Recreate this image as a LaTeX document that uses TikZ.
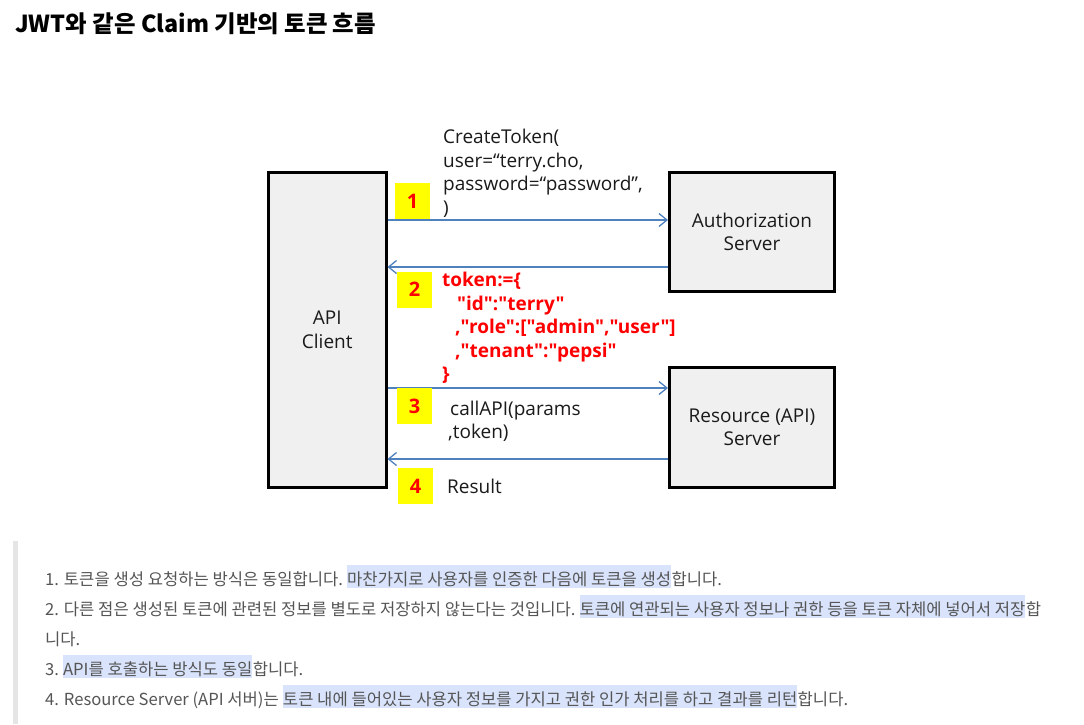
\documentclass[tikz,border=0pt]{standalone}
\usepackage{fontspec}
\usetikzlibrary{arrows.meta, positioning}
\newfontfamily\krfont{Noto Sans CJK KR}
\newfontfamily\diafont{Open Sans}
\definecolor{ink}{RGB}{26,26,26}
\definecolor{boxfill}{RGB}{240,240,240}
\definecolor{flowblue}{RGB}{79,129,189}
\definecolor{badge}{RGB}{255,255,0}
\definecolor{tokred}{RGB}{255,0,0}
\definecolor{bodytext}{RGB}{85,85,85}
\definecolor{hlblue}{RGB}{217,228,252}
\definecolor{quotebar}{RGB}{229,229,229}

\tikzset{
  server/.style={draw=black, line width=3pt, fill=boxfill, align=center, text=ink,
    inner sep=0pt, font=\diafont\fontsize{19}{23.5}\selectfont},
  flow/.style={draw=flowblue, line width=1.3pt, -{Straight Barb[length=8pt,width=13pt]}},
  numbadge/.style={fill=badge, minimum width=35pt, minimum height=36pt, inner sep=0pt,
    text=tokred, font=\diafont\bfseries\fontsize{20}{24}\selectfont},
  msg/.style={anchor=base west, inner sep=0pt, text=ink, font=\diafont\fontsize{19}{23.5}\selectfont},
  tokline/.style={msg, text=tokred, font=\diafont\bfseries\fontsize{19}{23.5}\selectfont},
  note/.style={anchor=base west, inner sep=0pt, text=bodytext, font=\krfont\fontsize{16.6}{20}\selectfont},
  notehl/.style={note, fill=hlblue, text height=20pt, text depth=3pt}
}

\begin{document}
\begin{tikzpicture}[x=1pt, y=-1pt]
  \useasboundingbox[fill=white] (0,0) rectangle (1084,724);

  % titre
  \node[anchor=base west, inner sep=0pt, text=black, font=\krfont\bfseries\fontsize{23.4}{28}\selectfont]
    (title) at (15,32) {JWT와 같은 Claim 기반의 토큰 흐름};

  % boites
  \node[server, minimum width=117.5pt, minimum height=315pt] (client) at (327.25,330) {API\\Client};
  \node[server, minimum width=165pt, minimum height=119pt] (auth) at (752,232) {Authorization\\Server};
  \node[server, minimum width=165pt, minimum height=120.5pt] (res) at (752,427.25) {Resource (API)\\Server};

  % fleches
  \coordinate (r1) at (0,220);
  \coordinate (r2) at (0,267);
  \coordinate (r3) at (0,388);
  \coordinate (r4) at (0,459);
  \draw[flow] (client.east |- r1) -- (auth.west |- r1);
  \draw[flow] (auth.west |- r2) -- (client.east |- r2);
  \draw[flow] (client.east |- r3) -- (res.west |- r3);
  \draw[flow] (res.west |- r4) -- (client.east |- r4);

  % numeros
  \node[numbadge] (b1) at (412.5,201) {1};
  \node[numbadge] (b2) at (414.5,289.5) {2};
  \node[numbadge] (b3) at (414.5,406) {3};
  \node[numbadge] (b4) at (415.5,486) {4};

  % messages
  \node[msg] (m1a) at (443,143.5) {CreateToken(};
  \node[msg] (m1b) at (443,167) {user=“terry.cho,};
  \node[msg] (m1c) at (443,190.5) {password=“password”,};
  \node[msg] (m1d) at (443,214) {)};

  \node[tokline] (t1) at (442,286.5) {token:=\{};
  \node[tokline] (t2) at (457,310) {"id":"terry"};
  \node[tokline] (t3) at (455,333.5) {,"role":["admin","user"]};
  \node[tokline] (t4) at (455,357) {,"tenant":"pepsi"};
  \node[tokline] (t5) at (442,380.5) {\}};

  \node[msg] (m3a) at (450,415) {callAPI(params};
  \node[msg] (m3b) at (448,438) {,token)};
  \node[msg] (m4) at (447,493) {Result};

  % texte du bas
  \fill[quotebar] (13,541) rectangle (18,724);

  \node[note] (n1a) at (45,585) {1. 토큰을 생성 요청하는 방식은 동일합니다.\ \null};
  \node[notehl] (n1b) at (n1a.base east) {마찬가지로 사용자를 인증한 다음에 토큰을 생성};
  \node[note] (n1c) at (n1b.base east) {합니다.};

  \node[note] (n2a) at (45,615) {2. 다른 점은 생성된 토큰에 관련된 정보를 별도로 저장하지 않는다는 것입니다.\ \null};
  \node[notehl] (n2b) at (n2a.base east) {토큰에 연관되는 사용자 정보나 권한 등을 토큰 자체에 넣어서 저장};
  \node[note] (n2c) at (n2b.base east) {합};
  \node[note] (n2d) at (45,645) {니다.};

  \node[note] (n3a) at (45,675) {3.\ \null};
  \node[notehl] (n3b) at (n3a.base east) {API를 호출하는 방식도 동일};
  \node[note] (n3c) at (n3b.base east) {합니다.};

  \node[note] (n4a) at (45,705) {4. Resource Server (API 서버)는\ \null};
  \node[notehl] (n4b) at (n4a.base east) {토큰 내에 들어있는 사용자 정보를 가지고 권한 인가 처리를 하고 결과를 리턴};
  \node[note] (n4c) at (n4b.base east) {합니다.};
\end{tikzpicture}
\end{document}
